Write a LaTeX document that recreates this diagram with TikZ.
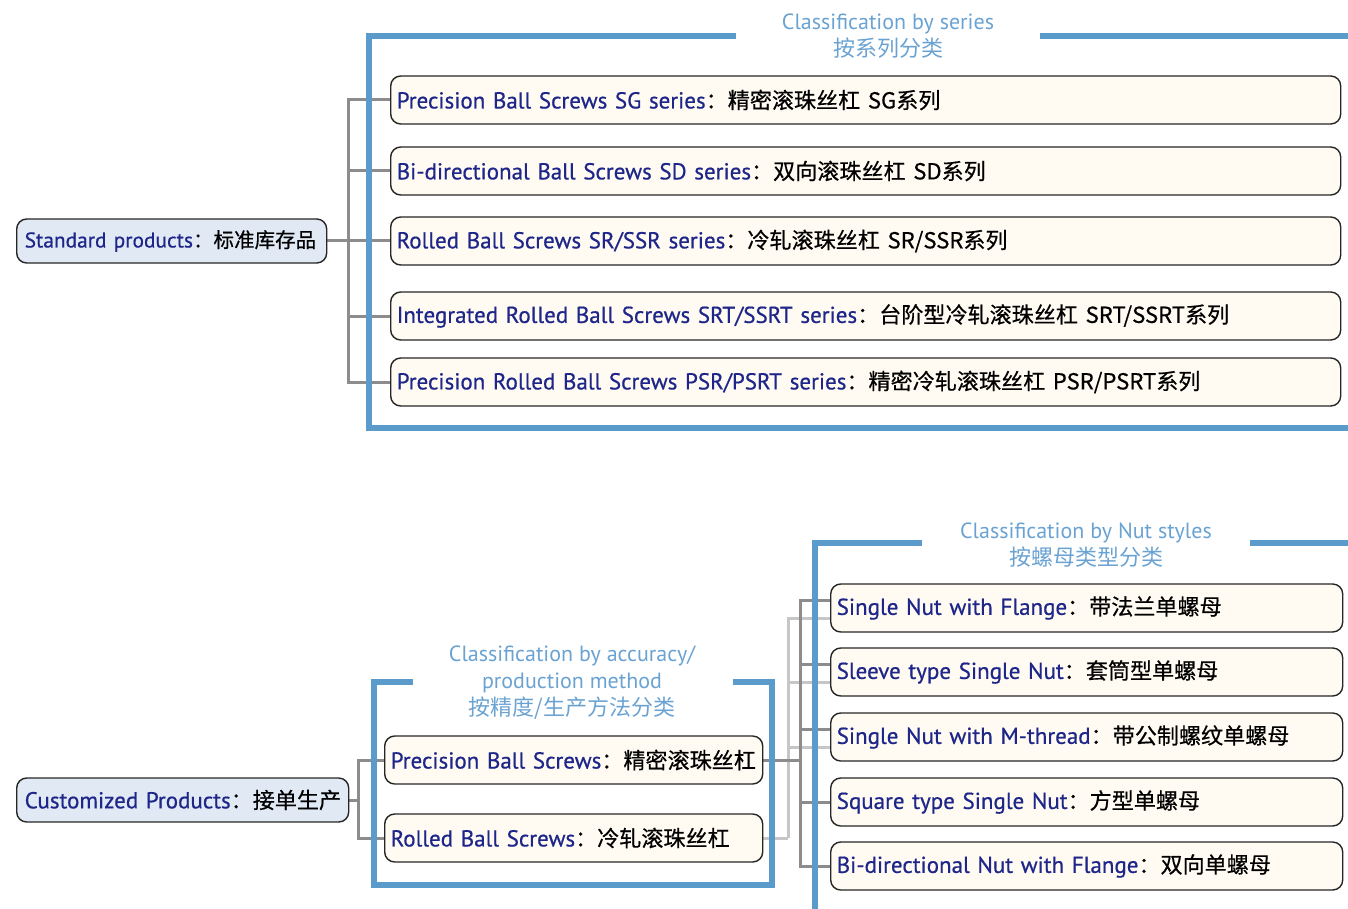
\documentclass[tikz,border=0pt]{standalone}
\usepackage{fontspec}
\setmainfont{PT Sans}
\newfontfamily\medio{PT Sans}[FakeBold=0.6]
\newfontfamily\cjk{Noto Sans CJK SC}[FakeBold=0.5, Scale=0.96]
\newfontfamily\cjktit{Noto Sans CJK SC}
\usepackage{tikz}
\usetikzlibrary{positioning,calc,backgrounds}
\definecolor{corniceblu}{HTML}{5B9BCB}
\definecolor{titoloblu}{HTML}{6AA2D2}
\definecolor{testoblu}{HTML}{1E2789}
\definecolor{fondoradice}{HTML}{E1E9F5}
\definecolor{fondovoce}{HTML}{FFFBF3}
\definecolor{ramoscuro}{HTML}{8C8C8C}
\definecolor{ramochiaro}{HTML}{C6C6C6}
\newcommand{\voce}[2]{\mbox{{\medio\color{testoblu}#1}{\cjk ：#2}}}
\tikzstyle{radice} = [rectangle, rounded corners=5pt, draw=black!85, line width=0.7pt, fill=fondoradice, anchor=west, align=left, minimum height=22pt, inner xsep=4pt, inner ysep=0pt, font=\fontsize{11.5}{13}\selectfont]
\tikzstyle{voce} = [rectangle, rounded corners=5pt, draw=black!85, line width=0.7pt, fill=fondovoce, anchor=west, align=left, minimum height=24pt, inner xsep=3pt, inner ysep=0pt, font=\fontsize{11.5}{13}\selectfont]
\tikzstyle{titolo} = [align=center, text=titoloblu, font=\fontsize{11}{13.5}\selectfont]
\tikzstyle{cornice} = [line width=2.6pt, draw=corniceblu, line join=miter]
\tikzstyle{ramo} = [line width=1.5pt, draw=ramoscuro]
\tikzstyle{ramochiaro} = [line width=1.5pt, draw=ramochiaro]

\begin{document}
\begin{tikzpicture}[x=0.5pt, y=-0.5pt]
\useasboundingbox (0,0) rectangle (1348,909);

% classificazione per serie
\node (std) at (16,241) [radice, text width=147pt, font=\fontsize{10.7}{13}\selectfont] {\voce{Standard products}{标准库存品}};
\node (s1) at (390,100) [voce, text width=469pt] {\voce{Precision Ball Screws SG series}{精密滚珠丝杠 SG系列}};
\node (s2) at (390,171) [voce, text width=469pt] {\voce{Bi-directional Ball Screws SD series}{双向滚珠丝杠 SD系列}};
\node (s3) at (390,241) [voce, text width=469pt] {\voce{Rolled Ball Screws SR/SSR series}{冷轧滚珠丝杠 SR/SSR系列}};
\node (s4) at (390,316) [voce, text width=469pt] {\voce{Integrated Rolled Ball Screws SRT/SSRT series}{台阶型冷轧滚珠丝杠 SRT/SSRT系列}};
\node (s5) at (390,382) [voce, text width=469pt] {\voce{Precision Rolled Ball Screws PSR/PSRT series}{精密冷轧滚珠丝杠 PSR/PSRT系列}};
\node (t1) at (888,36) [titolo] {Classification by series\\{\cjktit 按系列分类}};

% classificazione per precisione
\node (cus) at (16,800) [radice, text width=158pt] {\voce{Customized Products}{接单生产}};
\node (a1) at (384,760) [voce, text width=183pt] {\voce{Precision Ball Screws}{精密滚珠丝杠}};
\node (a2) at (384,838) [voce, text width=183pt] {\voce{Rolled Ball Screws}{冷轧滚珠丝杠}};
\node (t2) at (572,683) [titolo] {Classification by accuracy/\\production method\\{\cjktit 按精度/生产方法分类}};

% classificazione per chiocciola
\node (n1) at (830,608) [voce, text width=250pt] {\voce{Single Nut with Flange}{带法兰单螺母}};
\node (n2) at (830,672) [voce, text width=250pt] {\voce{Sleeve type Single Nut}{套筒型单螺母}};
\node (n3) at (830,737) [voce, text width=250pt] {\voce{Single Nut with M-thread}{带公制螺纹单螺母}};
\node (n4) at (830,802) [voce, text width=250pt] {\voce{Square type Single Nut}{方型单螺母}};
\node (n5) at (830,866) [voce, text width=250pt] {\voce{Bi-directional Nut with Flange}{双向单螺母}};
\node (t3) at (1086,545) [titolo] {Classification by Nut styles\\{\cjktit 按螺母类型分类}};

\begin{scope}[on background layer]
\coordinate (k1) at ($(std.east)+(21,0)$);
\draw[ramo] (std.east) -- (k1);
\foreach \n in {s1,s2,s3,s4,s5}
  \draw[ramo] (k1) |- (\n.west);
\coordinate (k2) at ($(cus.east)+(9,0)$);
\draw[ramo] (cus.east) -- (k2);
\foreach \n in {a1,a2}
  \draw[ramo] (k2) |- (\n.west);
\coordinate (k3) at ($(a2.east)+(25,0)$);
\draw[ramochiaro] (a2.east) -- (k3);
\foreach \n in {n1,n2,n3}
  \draw[ramochiaro] (k3) |- ($(\n.west)+(0,10)$);
\coordinate (k4) at ($(a1.east)+(37,0)$);
\draw[ramo] (a1.east) -- (k4);
\foreach \n in {n1,n2,n3}
  \draw[ramo] (k4) |- ($(\n.west)+(0,-8)$);
\foreach \n in {n4,n5}
  \draw[ramo] (k4) |- (\n.west);
% cornici
\draw[cornice] (736,36) -- (369,36) -- (369,428) -- (1348,428);
\draw[cornice] (1040,36) -- (1348,36);
\draw[cornice] (413,682) -- (374,682) -- (374,885) -- (772,885) -- (772,682) -- (733,682);
\draw[cornice] (922,543) -- (815,543) -- (815,909);
\draw[cornice] (1250,543) -- (1348,543);
\end{scope}
\end{tikzpicture}
\end{document}
